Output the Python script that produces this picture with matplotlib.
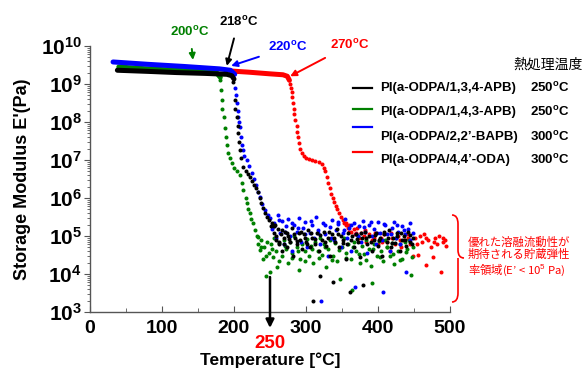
import math
import matplotlib
matplotlib.use("Agg")
import matplotlib.pyplot as plt
from matplotlib.lines import Line2D
from matplotlib.patches import PathPatch
from matplotlib.path import Path
from matplotlib.ticker import (FuncFormatter, LogLocator, MultipleLocator,
                               NullFormatter)

plt.rcParams['font.family'] = ['Liberation Sans', 'Noto Sans CJK JP', 'DejaVu Sans']
plt.rcParams['mathtext.fontset'] = 'custom'
plt.rcParams['mathtext.rm'] = 'Liberation Sans'
plt.rcParams['mathtext.bf'] = 'Liberation Sans:bold'

JP = ['Noto Sans CJK JP', 'DejaVu Sans']

# ---- data ----
series_names = ['PI(a-ODPA/1,3,4-APB)', 'PI(a-ODPA/1,4,3-APB)',
                'PI(a-ODPA/2,2\u2019-BAPB)', 'PI(a-ODPA/4,4\u2019-ODA)']
heat_temps = ['250', '250', '300', '300']
colors = ['#000000', '#008000', '#0000ff', '#ff0000']
y_ticks = [1e3, 1e4, 1e5, 1e6, 1e7, 1e8, 1e9, 1e10]

# plateau (glassy region)
black_flat_T = [38, 80, 120, 160, 190, 197, 200]
black_flat_E = [2.3e9, 2.15e9, 2.0e9, 1.9e9, 1.8e9, 1.65e9, 1.35e9]
green_flat_T = [40, 80, 120, 160, 176, 181]
green_flat_E = [2.8e9, 2.5e9, 2.3e9, 2.1e9, 1.95e9, 1.5e9]
blue_flat_T = [32, 80, 130, 180, 195, 201]
blue_flat_E = [3.8e9, 3.3e9, 2.9e9, 2.5e9, 2.3e9, 1.8e9]
red_flat_T = [195, 220, 250, 268, 274, 277]
red_flat_E = [2.2e9, 2.05e9, 1.85e9, 1.75e9, 1.6e9, 1.25e9]

# transition + rubbery / flow region
black_T = [199, 201, 202, 204, 205, 206, 207, 208, 210, 212, 216, 219, 222, 225,
           228, 231, 234, 236, 238, 240, 243, 246, 249, 253, 256,
           252, 255, 257, 259, 261, 263, 265, 267, 269, 271, 273, 275, 278, 280,
           282, 285, 287, 290, 292, 295, 297, 300, 303, 305, 308, 310, 312, 315,
           318, 319, 322, 325, 328, 330, 333, 336, 338, 340, 343, 346, 349, 352,
           355, 358, 361, 363, 366, 369, 372, 375, 378, 379, 382, 385, 388, 391,
           394, 397, 400, 403, 406, 409, 412, 415, 418, 421, 424, 427, 430, 433,
           436, 439, 442, 445, 448,
           258, 262, 266, 270, 274, 277, 283, 288, 293, 298, 302, 307, 313, 320,
           327, 332, 339, 345, 351, 357, 364, 371, 377, 384, 390, 396, 402, 408,
           414, 420, 426, 432, 438, 444, 447]
black_E = [1.1e9, 3.8e8, 2.2e8, 1.35e8, 8e7, 5e7, 3e7, 1.8e7, 1.1e7, 6.6e6, 5e6,
           4.2e6, 3.5e6, 2.8e6, 2.2e6, 1.8e6, 1.4e6, 1.0e6, 7.4e5, 5.6e5, 4e5,
           3.2e5, 2.6e5, 2.2e5, 1.8e5,
           1.8e5, 1.2e5, 2.0e5, 8e4, 1.5e5, 6e4, 1.1e5, 4e4, 9e4, 1.3e5, 5e4,
           1.0e5, 7e4, 1.6e5, 3e4, 9e4, 6e4, 1.2e5, 8e4, 4.5e4, 1.1e5, 7e4, 1.4e5,
           5e4, 9e4, 2.0e3, 6e4, 1.2e5, 4e4, 9e3, 8e4, 1.3e5, 5.5e4, 9e4, 3e4,
           1.1e5, 6e3, 7e4, 1.5e5, 5e4, 1e5, 6.5e4, 2.5e4, 1.2e5, 3.4e3, 8e4, 5e4,
           1.1e5, 7e4, 2.8e4, 9e4, 5e3, 1.3e5, 6e4, 1.0e5, 4e4, 8e4, 1.2e5, 5.5e4,
           9e4, 3e4, 1.1e5, 7e4, 1.4e5, 5e4, 9e4, 6.5e4, 1.2e5, 4e4, 8e4, 1.0e5,
           5.5e4, 1.3e5, 7e4, 9e4,
           1.0e5, 7e4, 1.4e5, 6e4, 1.2e5, 8.5e4, 1.1e5, 7.5e4, 1.3e5, 9e4, 6e4,
           1.2e5, 8.5e4, 1.05e5, 7e4, 1.25e5, 9e4, 1.1e5, 8e4, 6e4, 1.0e5, 8.5e4,
           1.2e5, 9e4, 7e4, 1.05e5, 8e4, 1.3e5, 9e4, 6.5e4, 1.0e5, 1.2e5, 8e4,
           1.05e5, 6e4]

green_T = [181, 182, 183, 184, 186, 187, 189, 190, 192, 195, 197, 200, 204, 208,
           211, 213, 216, 218, 220, 222, 224, 226, 229, 233,
           232, 234, 236, 238, 240, 242, 244, 246, 248, 250, 252, 254, 256, 258,
           260, 263, 266, 269, 272, 275, 278, 281, 284, 287, 290, 292, 295, 298,
           301, 304, 307, 310, 313, 316, 319, 322, 325, 328, 331, 334, 337, 340,
           343, 347, 350, 353, 356, 359, 362, 364, 366, 369, 372, 375, 378, 381,
           384, 387, 390, 392, 395, 398, 401, 404, 407, 410, 413, 416, 419, 422,
           425, 428, 431, 434, 437, 440, 443, 446, 448,
           237, 245, 253, 262, 271, 280, 289, 299, 309, 318, 327, 336, 346, 355,
           365, 374, 383, 393, 403, 412, 421, 430, 439, 447]
green_E = [1.25e9, 7e8, 3.8e8, 2.2e8, 1.35e8, 7e7, 4e7, 2.5e7, 1.5e7, 1.1e7,
           8.3e6, 6.3e6, 5e6, 4e6, 2.5e6, 1.6e6, 1.0e6, 7.4e5, 5.2e5, 4e5, 2.8e5,
           2.2e5, 1.4e5, 9.3e4,
           1.0e5, 6e4, 4.3e4, 8e4, 2.5e4, 5e4, 9e3, 7e4, 3.5e4, 1.1e4, 6e4, 2.8e4,
           9e4, 4e4, 1.5e4, 6.5e4, 3e4, 8e4, 4.5e4, 2e4, 7e4, 3.5e4, 1.0e5, 5e4,
           1.3e4, 2.5e4, 6e4, 4e4, 8.5e4, 3e4, 5.5e4, 2e4, 7e4, 4e4, 9e4, 3.2e4,
           6e4, 1.5e4, 4.5e4, 8e4, 3e4, 6.5e4, 2.2e4, 7.4e3, 5e4, 9e4, 3.5e4, 6e4,
           2.5e4, 3.8e3, 7e4, 4e4, 1e5, 2e4, 5.5e4, 3.3e4, 8e4, 4.5e4, 1.6e4,
           5.8e3, 6e4, 3e4, 7.5e4, 4e4, 2.2e4, 8e4, 5e4, 3e4, 6.5e4, 1.8e4, 9e4,
           4e4, 6e4, 2.5e4, 7e4, 4.5e4, 8e4, 9.3e3, 5e4,
           5e4, 3e4, 4.5e4, 2.2e4, 5.5e4, 2.7e4, 4e4, 2.2e4, 4.5e4, 2.6e4, 5e4,
           2.3e4, 4.3e4, 2.7e4, 5e4, 3.3e4, 2.3e4, 4.5e4, 2.8e4, 5.2e4, 3.3e4,
           2.4e4, 3.8e4, 2.8e4]

blue_T = [202, 203, 204, 205, 206, 207, 209, 210, 211, 212, 214, 218, 221, 225,
          228, 231, 234, 236, 239, 243, 247,
          250, 253, 256, 258, 261, 264, 266, 269, 272, 275, 278, 281, 284, 287,
          290, 293, 296, 299, 302, 305, 308, 311, 314, 317, 320, 321, 324, 327,
          330, 333, 336, 339, 342, 345, 348, 351, 354, 357, 360, 363, 366, 368,
          370, 373, 376, 379, 382, 385, 388, 391, 394, 397, 400, 403, 406, 407,
          410, 413, 416, 419, 422, 425, 428, 431, 434, 437, 439, 442, 445, 448,
          255, 263, 271, 280, 289, 298, 307, 316, 326, 335, 344, 353, 362, 372,
          381, 390, 399, 409, 418, 427, 436, 444]
blue_E = [8e8, 5e8, 3.2e8, 2e8, 1.35e8, 1.0e8, 7.4e7, 4e7, 2.5e7, 1.8e7, 1.25e7,
          1.0e7, 7e6, 4.6e6, 3.2e6, 2.2e6, 1.4e6, 1.07e6, 7e5, 4.8e5, 3.5e5,
          3e5, 1.5e5, 2.2e5, 9e4, 3.5e5, 1.2e5, 2.5e5, 6e4, 1.8e5, 2.8e5, 1.0e5,
          4e4, 2e5, 1.3e5, 3e5, 7e4, 1.6e5, 2.4e5, 5e4, 1.2e5, 2e5, 9e4, 3.2e5,
          1.4e5, 6e4, 2.0e3, 2.2e5, 1.1e5, 3e4, 1.7e5, 2.6e5, 8e4, 1.4e5, 2.1e5,
          5e4, 1.2e5, 2.8e5, 9e4, 1.6e5, 4e4, 2.2e5, 4.5e3, 1.1e5, 1.8e5, 7e4,
          2.5e5, 1.3e5, 3.5e4, 2e5, 1e5, 1.5e5, 6e4, 2.3e5, 1.2e5, 8e4, 3.4e3,
          1.9e5, 1.1e5, 4e4, 1.6e5, 2.4e5, 9e4, 1.3e5, 6e4, 1.8e5, 1.1e5, 1.1e4,
          1.5e5, 8e4, 1.2e5,
          1.8e5, 2.6e5, 1.3e5, 2.2e5, 1.6e5, 1.1e5, 2.5e5, 1.2e5, 1.9e5, 9e4,
          2.3e5, 1.4e5, 2.0e5, 1.0e5, 1.7e5, 2.4e5, 1.2e5, 2.1e5, 1.1e5, 1.9e5,
          1.4e5, 2.2e5]

red_T = [278, 279, 280, 281, 282, 283, 284, 285, 287, 288, 289, 290, 292, 294,
         297, 300, 304, 308, 313, 318, 322, 325, 327, 329, 331, 333, 335, 337,
         339, 341, 343, 346, 349, 352, 355,
         353, 356, 358, 360, 363, 366, 368, 371, 374, 376, 380, 384, 388, 392,
         396, 400, 404, 408, 412, 416, 420, 424, 428, 432, 436, 440, 444, 448,
         452, 455, 458, 461, 464, 467, 470, 473, 476, 479, 482, 485, 488, 490,
         493, 495,
         360, 370, 382, 394, 406, 418, 430, 442, 454, 466, 478, 490]
red_E = [1.0e9, 8e8, 6.3e8, 4.5e8, 3.2e8, 2.2e8, 1.6e8, 1.1e8, 8e7, 5.6e7, 4e7,
         2.8e7, 2e7, 1.5e7, 1.25e7, 1.1e7, 1.05e7, 1.0e7, 9.5e6, 8.9e6, 8e6,
         6.3e6, 5e6, 3.5e6, 2.5e6, 1.8e6, 1.25e6, 1.0e6, 8e5, 6.3e5, 5e5, 4e5,
         3.2e5, 2.6e5, 2.2e5,
         2.2e5, 1.9e5, 1.6e5, 2.0e5, 1.3e5, 1.5e5, 1.1e5, 1.6e5, 9e4, 1.2e5,
         1.0e5, 7e4, 1.1e5, 8e4, 1.2e5, 6e4, 9e4, 1.1e5, 7e4, 4e4, 9e4, 6e4,
         1.0e5, 5e4, 8e4, 1.1e5, 6e4, 3e4, 9e4, 3.2e4, 1.0e5, 7e4, 1.1e5, 1.7e4,
         8e4, 5e4, 2.8e4, 9e4, 6e4, 1.0e5, 1.1e4, 7e4, 8e4, 5.5e4,
         1.3e5, 1.2e5, 1.4e5, 9e4, 7e4, 1.2e5, 8e4, 9e4, 6e4, 9e4, 7e4, 9e4]

flat_T = [black_flat_T, green_flat_T, blue_flat_T, red_flat_T]
flat_E = [black_flat_E, green_flat_E, blue_flat_E, red_flat_E]
pts_T = [black_T, green_T, blue_T, red_T]
pts_E = [black_E, green_E, blue_E, red_E]

W, H = 583, 369


def fx(px):
    return px / W


def fy(py):
    return 1 - py / H


fig = plt.figure(figsize=(W / 100, H / 100), dpi=100)
ax = fig.add_axes([fx(90), fy(312), 360 / W, 266 / H])

for i in [3, 1, 2, 0]:
    ax.plot(flat_T[i], flat_E[i], '-', color=colors[i], lw=3.6,
            solid_capstyle='round', zorder=2)
    ax.plot(pts_T[i], pts_E[i], 'o', color=colors[i], ms=2.9, mew=0,
            zorder=3)

ax.set_yscale('log')
ax.set_xlim(0, 500)
ax.set_ylim(1e3, 1e10)

for s in ['top', 'right']:
    ax.spines[s].set_visible(False)
for s in ['left', 'bottom']:
    ax.spines[s].set_color('#555555')
    ax.spines[s].set_linewidth(1.0)

ax.xaxis.set_major_locator(MultipleLocator(100))
ax.xaxis.set_minor_locator(MultipleLocator(50))
ax.set_yticks(y_ticks)
ax.yaxis.set_minor_locator(LogLocator(base=10, subs=range(2, 10), numticks=20))
ax.yaxis.set_minor_formatter(NullFormatter())
ax.yaxis.set_major_formatter(FuncFormatter(
    lambda v, pos: r'$\mathbf{10^{%d}}$' % round(math.log10(v))))
ax.set_ylim(1e3, 1e10)
ax.tick_params(axis='x', which='major', direction='in', length=4, pad=6,
               labelsize=14, color='#555555')
ax.tick_params(axis='x', which='minor', direction='in', length=3,
               color='#555555')
ax.tick_params(axis='y', which='major', direction='out', length=4, pad=2,
               labelsize=15, color='#555555')
ax.tick_params(axis='y', which='minor', direction='out', length=2,
               color='#555555')
for lab in ax.get_xticklabels():
    lab.set_fontweight('bold')

fig.text(fx(23), fy(179), 'Storage Modulus E\'(Pa)', rotation=90,
         ha='center', va='center', fontsize=13, fontweight='bold')
fig.text(fx(270), fy(360), 'Temperature [\u00b0C]', ha='center', va='center',
         fontsize=12.5, fontweight='bold')

# temperature callouts
callouts = [('200', '#008000', (139, 2.3e10), (143, 4.3e9)),
            ('218', '#000000', (206, 4.3e10), (190, 3.0e9)),
            ('220', '#0000ff', (275, 9.3e9), (196, 3.0e9)),
            ('270', '#ff0000', (361, 1.07e10), (278, 1.6e9))]
for t, c, txt, tip in callouts:
    ax.annotate(t + r'$^{\mathbf{o}}$C', xy=tip, xytext=txt, color=c,
                fontsize=9.5, fontweight='bold', ha='center', va='center',
                annotation_clip=False,
                arrowprops=dict(arrowstyle='-|>', color=c, lw=1.4,
                                mutation_scale=9, shrinkA=5, shrinkB=0))

ax.annotate('', xy=(250, 3.8e2), xytext=(250, 8.3e3), annotation_clip=False,
            arrowprops=dict(arrowstyle='-|>', color='black', lw=1.8,
                            mutation_scale=12, shrinkA=0, shrinkB=0))
fig.text(fx(270), fy(343), '250', color='#ff0000', ha='center', va='center',
         fontsize=13.5, fontweight='bold')

# legend
fig.text(fx(583), fy(65), '熱処理温度', family=JP, fontsize=10,
         ha='right', va='center')
line_y = [88, 109, 127, 152]
text_y = [88, 112, 137, 160]
for i in range(4):
    fig.add_artist(Line2D([fx(353), fx(372)], [fy(line_y[i])] * 2,
                          color=colors[i], lw=1.6, transform=fig.transFigure))
    fig.text(fx(380), fy(text_y[i]), series_names[i], fontsize=9.5,
             fontweight='bold', ha='left', va='center')
    fig.text(fx(530), fy(text_y[i]), heat_temps[i] + r'$^{\mathbf{o}}$C',
             fontsize=9.5, fontweight='bold', ha='left', va='center')

# brace
bx = [(452, 215), (458, 215), (458, 224), (458, 250), (458, 258), (464, 258),
      (458, 258), (458, 266), (458, 293), (458, 302), (452, 302)]
codes = [Path.MOVETO, Path.CURVE3, Path.CURVE3, Path.LINETO, Path.CURVE3,
         Path.CURVE3, Path.MOVETO, Path.CURVE3, Path.LINETO, Path.CURVE3,
         Path.CURVE3]
verts = [(fx(a), fy(b)) for a, b in bx]
fig.add_artist(PathPatch(Path(verts, codes), fill=False, edgecolor='#ff0000',
                         lw=1.2, transform=fig.transFigure))
fig.text(fx(468), fy(257),
         '優れた溶融流動性が\n期待される貯蔵弾性\n率領域(E\u2019 < 10$^{5}$ Pa)',
         family=JP, color='#ff0000', fontsize=8.2, ha='left', va='center',
         linespacing=1.15)

fig.savefig('out.png', dpi=100)
